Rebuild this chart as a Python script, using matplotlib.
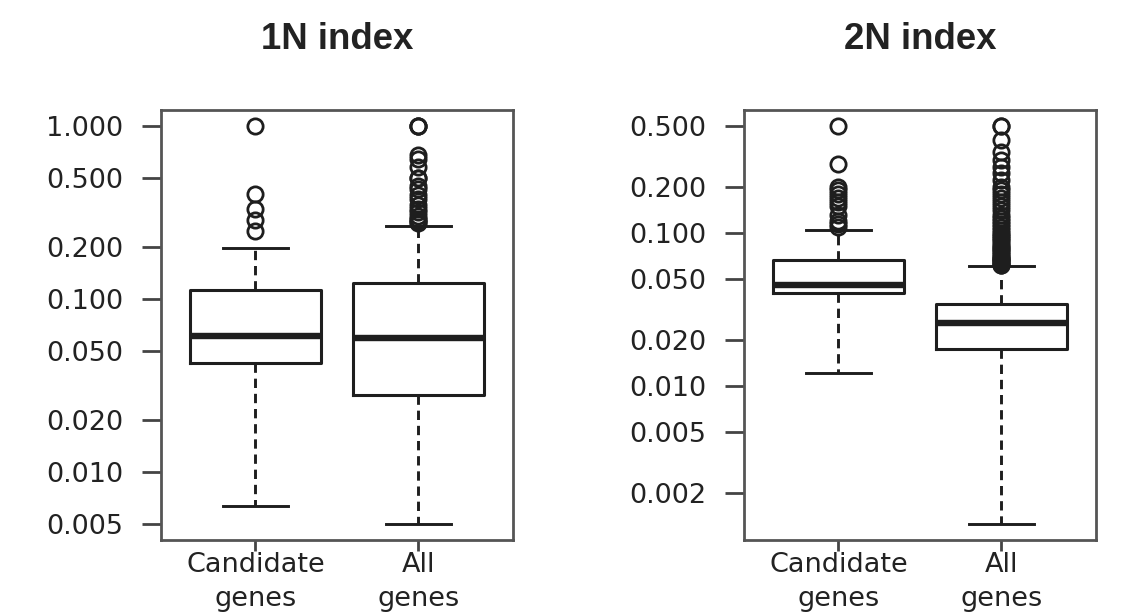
import numpy as np
import matplotlib
matplotlib.use("Agg")
import matplotlib.pyplot as plt

# --- data (log-scale values) ---
groups = ["Candidate\ngenes", "All\ngenes"]

# 1N index
n1_med = [0.0607, 0.0598]
n1_q1 = [0.0426, 0.0277]
n1_q3 = [0.112, 0.123]
n1_lo = [0.00632, 0.0050]
n1_hi = [0.198, 0.265]
n1_out_cand = [1.0, 0.405, 0.332, 0.286, 0.247]
n1_out_all = [1.0, 1.0, 1.0, 0.68, 0.64, 0.58, 0.50, 0.50, 0.45, 0.43,
              0.40, 0.38, 0.35, 0.33, 0.32, 0.30, 0.29, 0.285, 0.28, 0.275]
n1_ticks = [0.005, 0.01, 0.02, 0.05, 0.1, 0.2, 0.5, 1.0]

# 2N index
n2_med = [0.0456, 0.0258]
n2_q1 = [0.0404, 0.0174]
n2_q3 = [0.0667, 0.0344]
n2_lo = [0.01215, 0.00125]
n2_hi = [0.1047, 0.061]
n2_out_cand = [0.5, 0.28, 0.20, 0.19, 0.18, 0.17, 0.16, 0.15, 0.13,
               0.12, 0.115, 0.11]
n2_out_all = [0.5, 0.5, 0.405, 0.34, 0.30, 0.27, 0.245, 0.222, 0.20,
              0.19, 0.18, 0.17, 0.16, 0.15, 0.14, 0.13, 0.125, 0.12,
              0.115, 0.11, 0.105, 0.10, 0.097, 0.094, 0.091, 0.088,
              0.085, 0.082, 0.080, 0.078, 0.076, 0.074, 0.072, 0.070,
              0.068, 0.067, 0.066, 0.065, 0.064, 0.063, 0.062, 0.0615]
n2_ticks = [0.002, 0.005, 0.01, 0.02, 0.05, 0.1, 0.2, 0.5]

ink = "#1e1e1e"


def make_stats(med, q1, q3, lo, hi, outs):
    stats = []
    for i in range(len(med)):
        stats.append(dict(med=med[i], q1=q1[i], q3=q3[i],
                          whislo=lo[i], whishi=hi[i], fliers=outs[i]))
    return stats


def draw(ax, stats, ticks, title):
    ax.bxp(stats, positions=[1, 2], widths=0.8, showfliers=True,
           boxprops=dict(color=ink, linewidth=2.2),
           medianprops=dict(color=ink, linewidth=4.6, solid_capstyle="butt"),
           whiskerprops=dict(color=ink, linewidth=2.1, linestyle=(0, (3.2, 2.0))),
           capprops=dict(color=ink, linewidth=2.1),
           capwidths=0.4,
           flierprops=dict(marker="o", markersize=11, markerfacecolor="none",
                           markeredgecolor=ink, markeredgewidth=2.0, linestyle="none"))
    ax.set_yscale("log")
    # R-style 4% padding on the log range
    lo = min(s["whislo"] for s in stats)
    hi = max(max(s["fliers"]) for s in stats)
    pad = 0.04 * (np.log10(hi) - np.log10(lo))
    ax.set_ylim(10 ** (np.log10(lo) - pad), 10 ** (np.log10(hi) + pad))
    ax.set_xlim(0.42, 2.58)
    ax.set_yticks(ticks)
    ax.set_yticklabels(["%.3f" % t for t in ticks])
    ax.yaxis.set_minor_locator(matplotlib.ticker.NullLocator())
    ax.set_xticks([1, 2])
    ax.set_xticklabels(groups, linespacing=1.4)
    ax.tick_params(axis="y", length=14, width=2.0, color="#444444", pad=13,
                   labelsize=19.5, labelcolor="#222222")
    ax.tick_params(axis="x", length=8, width=2.0, color="#444444", pad=1,
                   labelsize=19.5, labelcolor="#222222")
    for sp in ax.spines.values():
        sp.set_color("#555555")
        sp.set_linewidth(2.0)
    ax.set_title(title, fontsize=26.4, fontweight="bold",
                 family="Liberation Sans", color="#222222", pad=44)


fig = plt.figure(figsize=(11.4, 6.15), dpi=100)
ax1 = fig.add_axes([0.1412, 0.1220, 0.3088, 0.6992])
ax2 = fig.add_axes([0.6526, 0.1220, 0.3088, 0.6992])

draw(ax1, make_stats(n1_med, n1_q1, n1_q3, n1_lo, n1_hi,
                     [n1_out_cand, n1_out_all]), n1_ticks, "1N index")
draw(ax2, make_stats(n2_med, n2_q1, n2_q3, n2_lo, n2_hi,
                     [n2_out_cand, n2_out_all]), n2_ticks, "2N index")

fig.savefig("out.png", dpi=100)
